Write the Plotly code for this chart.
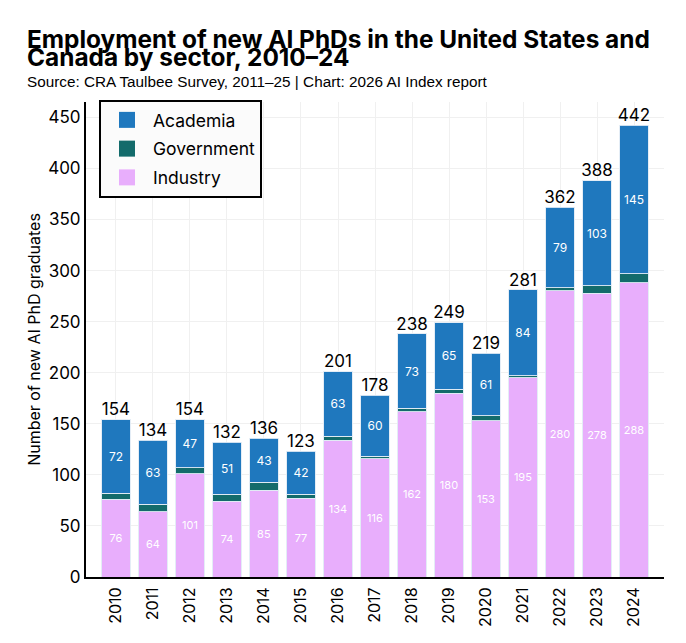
import plotly.graph_objects as go

years = ["2010", "2011", "2012", "2013", "2014", "2015", "2016", "2017",
         "2018", "2019", "2020", "2021", "2022", "2023", "2024"]
industry = [76, 64, 101, 74, 85, 77, 134, 116, 162, 180, 153, 195, 280, 278, 288]
government = [6, 7, 6, 7, 8, 4, 4, 2, 3, 4, 5, 2, 3, 7, 9]
academia = [72, 63, 47, 51, 43, 42, 63, 60, 73, 65, 61, 84, 79, 103, 145]
totals = [154, 134, 154, 132, 136, 123, 201, 178, 238, 249, 219, 281, 362, 388, 442]

C_ACA = "#1f78be"
C_GOV = "#136b6b"
C_IND = "#e8aefc"
FONT = "Inter, Roboto, sans-serif"

# figure is placed at (8, 8) in the page, so everything is in page px - 8
L, R, T, B = 78, 22, 94, 66
W, H = 678, 635
PW, PH = W - L - R, H - T - B


def px_x(px):
    return (px - L) / PW


def px_y(py):
    return (H - B - py) / PH


fig = go.Figure()
line = dict(color="rgba(225,235,245,0.9)", width=1)
fig.add_trace(go.Bar(x=years, y=industry, name="Industry", showlegend=False,
                     marker=dict(color=C_IND, line=line),
                     text=industry, textposition="inside", insidetextanchor="middle",
                     textfont=dict(color="white", size=11, family=FONT), width=0.77))
fig.add_trace(go.Bar(x=years, y=government, name="Government", showlegend=False,
                     marker=dict(color=C_GOV, line=line),
                     texttemplate="", width=0.77))
fig.add_trace(go.Bar(x=years, y=academia, name="Academia", showlegend=False,
                     marker=dict(color=C_ACA, line=line),
                     text=academia, textposition="inside", insidetextanchor="middle",
                     textfont=dict(color="white", size=12, family=FONT), width=0.77))
fig.add_trace(go.Scatter(x=years, y=totals, mode="text", text=[str(t) for t in totals],
                         textposition="top center", showlegend=False, hoverinfo="skip",
                         textfont=dict(color="black", size=17, family=FONT)))

# legend entries (square swatches)
for rank, (name, col) in enumerate([("Academia", C_ACA), ("Government", C_GOV), ("Industry", C_IND)]):
    fig.add_trace(go.Scatter(x=[None], y=[None], mode="markers", name=name,
                             legendgroup=name, legendrank=rank + 1,
                             marker=dict(symbol="square", size=16, color=col)))

annotations = [
    dict(text="<b>Employment of new AI PhDs in the United States and</b>",
         x=px_x(17), y=px_y(31), xanchor="left", yanchor="middle",
         font=dict(size=24.4, family=FONT, color="black")),
    dict(text="<b>Canada by sector, 2010–24</b>",
         x=px_x(17), y=px_y(49.5), xanchor="left", yanchor="middle",
         font=dict(size=24.4, family=FONT, color="black")),
    dict(text="Source: CRA Taulbee Survey, 2011–25 | Chart: 2026 AI Index report",
         x=px_x(17), y=px_y(73.5), xanchor="left", yanchor="middle",
         font=dict(size=15.3, family="Liberation Sans, Arial, sans-serif", color="black")),
]
for a in annotations:
    a.update(xref="paper", yref="paper", showarrow=False)

fig.update_layout(
    barmode="stack",
    width=W, height=H,
    paper_bgcolor="white", plot_bgcolor="white",
    margin=dict(l=L, r=R, t=T, b=B),
    font=dict(family=FONT, color="black"),
    annotations=annotations,
    legend=dict(
        x=px_x(91), y=px_y(92), xanchor="left", yanchor="top",
        bgcolor="#fbfbfb", bordercolor="black", borderwidth=2,
        font=dict(size=17.5, family=FONT), traceorder="grouped",
        tracegroupgap=3, itemwidth=42, itemsizing="trace",
    ),
    xaxis=dict(
        type="category",
        range=[-0.81, 14.81],
        tickangle=-90, tickfont=dict(size=16, family=FONT),
        showline=True, linecolor="black", linewidth=2,
        showgrid=True, gridcolor="#f0f0f0", ticks="",
        automargin=False, ticklabelstandoff=2,
    ),
    yaxis=dict(
        range=[0, 465], tickvals=[0, 50, 100, 150, 200, 250, 300, 350, 400, 450],
        tickfont=dict(size=17, family=FONT),
        showline=True, linecolor="black", linewidth=2,
        showgrid=True, gridcolor="#f0f0f0", zeroline=False, ticks="",
        automargin=False, ticklabelstandoff=0,
        title=dict(text="Number of new AI PhD graduates", font=dict(size=16, family=FONT), standoff=4),
    ),
)

fig.write_html("out.html")
